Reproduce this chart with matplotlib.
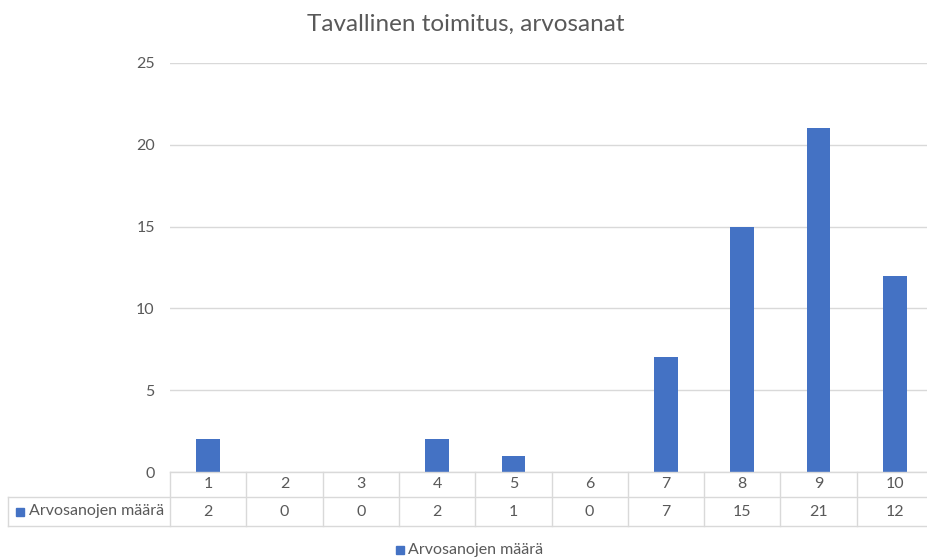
import matplotlib
matplotlib.use("Agg")
import matplotlib.pyplot as plt
from matplotlib.patches import Rectangle
from matplotlib.lines import Line2D

plt.rcParams['font.family'] = ['Lato', 'DejaVu Sans']

categories = ["1", "2", "3", "4", "5", "6", "7", "8", "9", "10"]
counts = [2, 0, 0, 2, 1, 0, 7, 15, 21, 12]
series_name = "Arvosanojen määrä"
title = "Tavallinen toimitus, arvosanat"
y_ticks = [0, 5, 10, 15, 20, 25]

BAR = "#4472C4"
GRID = "#D9D9D9"
TXT = "#595959"
FS = 11.5

W, H = 927, 557
fig = plt.figure(figsize=(W / 100, H / 100), dpi=100)

x0, x1 = 170, 933
y_top, y_zero = 63, 472
ax = fig.add_axes([x0 / W, (H - y_zero) / H, (x1 - x0) / W, (y_zero - y_top) / H])

xs = list(range(1, len(categories) + 1))
ax.bar(xs, counts, width=0.31, color=BAR, zorder=3)
ax.set_xlim(0.5, len(categories) + 0.5)
ax.set_ylim(0, 25)
ax.set_yticks(y_ticks)
ax.set_yticklabels([str(v) for v in y_ticks], color=TXT, fontsize=FS)
ax.tick_params(axis='y', length=0, pad=11)
ax.set_xticks([])
ax.grid(axis='y', color=GRID, linewidth=1, zorder=0)
for s in ax.spines.values():
    s.set_visible(False)

fig.text(466 / W, 1 - 24 / H, title, ha='center', va='center',
         fontsize=17.5, color=TXT)

# data table below the plot, drawn in pixel coordinates
def fx(px):
    return px / W

def fy(py):
    return 1 - py / H

r0, r1, r2 = 472, 497, 526
cell_w = (x1 - x0) / len(categories)
lw = 1
# horizontal lines
fig.add_artist(Line2D([fx(x0), fx(x1)], [fy(r0), fy(r0)], color=GRID, lw=lw))
fig.add_artist(Line2D([fx(8), fx(x1)], [fy(r1), fy(r1)], color=GRID, lw=lw))
fig.add_artist(Line2D([fx(8), fx(x1)], [fy(r2), fy(r2)], color=GRID, lw=lw))
# vertical lines
fig.add_artist(Line2D([fx(8), fx(8)], [fy(r1), fy(r2)], color=GRID, lw=lw))
for i in range(len(categories) + 1):
    xp = x0 + i * cell_w
    fig.add_artist(Line2D([fx(xp), fx(xp)], [fy(r0), fy(r2)], color=GRID, lw=lw))

for i, (c, v) in enumerate(zip(categories, counts)):
    xc = x0 + (i + 0.5) * cell_w
    fig.text(fx(xc), fy((r0 + r1) / 2), c, ha='center', va='center',
             fontsize=FS, color=TXT)
    fig.text(fx(xc), fy((r1 + r2) / 2), str(v), ha='center', va='center',
             fontsize=FS, color=TXT)

# series key in the table row
fig.add_artist(Rectangle((fx(16), fy(516)), 8 / W, 8 / H, color=BAR,
                         transform=fig.transFigure))
fig.text(fx(29), fy((r1 + r2) / 2), series_name, ha='left', va='center',
         fontsize=FS, color=TXT)

# legend at the bottom
fig.add_artist(Rectangle((fx(396), fy(554)), 8 / W, 8 / H, color=BAR,
                         transform=fig.transFigure))
fig.text(fx(408), fy(550), series_name, ha='left', va='center',
         fontsize=FS, color=TXT)

fig.savefig("out.png", dpi=100)
